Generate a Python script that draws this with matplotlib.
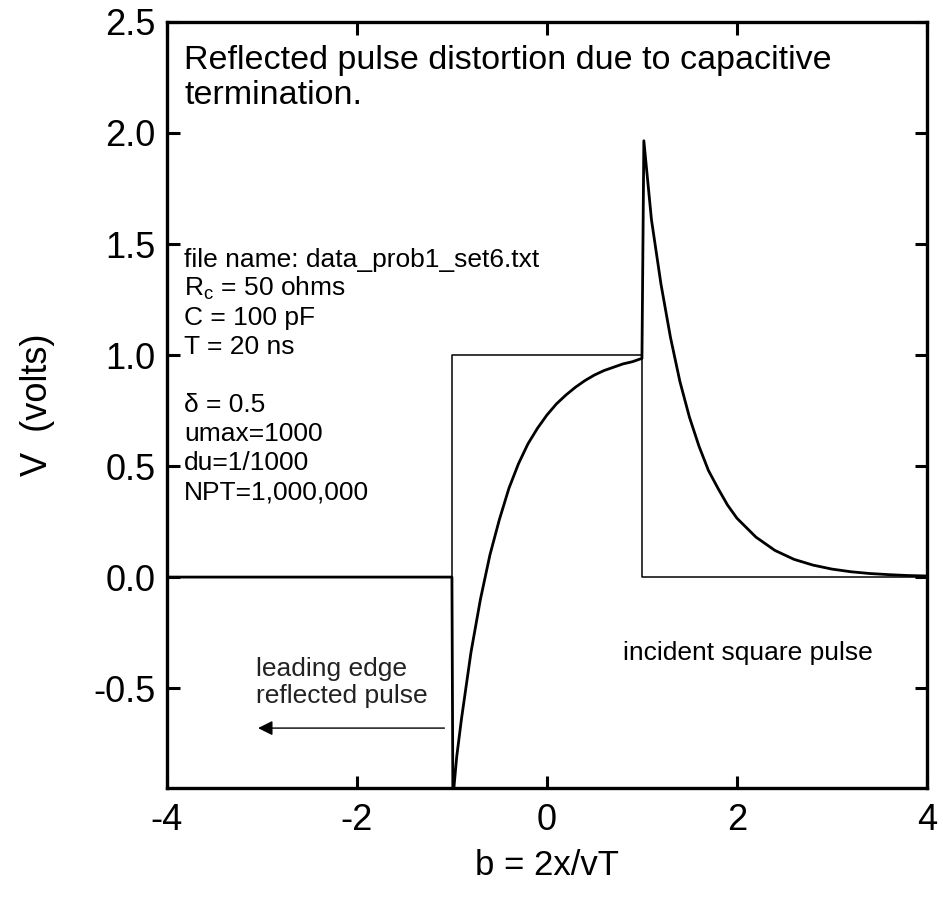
import matplotlib
matplotlib.use('Agg')
import matplotlib.pyplot as plt

plt.rcParams['font.family'] = ['Liberation Sans', 'DejaVu Sans']
plt.rcParams['mathtext.fontset'] = 'custom'
plt.rcParams['mathtext.rm'] = 'Liberation Sans'
plt.rcParams['axes.unicode_minus'] = False

# incident square pulse
square_b = [-4.0, -1.0, -1.0, 1.0, 1.0, 4.0]
square_v = [0.0, 0.0, 1.0, 1.0, 0.0, 0.0]

# reflected pulse
refl_b = [-4.0, -1.0, -0.99, -0.95, -0.9, -0.8, -0.7, -0.6, -0.5, -0.4, -0.3,
          -0.2, -0.1, 0.0, 0.1, 0.2, 0.3, 0.4, 0.5, 0.6, 0.7, 0.8, 0.9, 1.0,
          1.02, 1.1, 1.2, 1.3, 1.4, 1.5, 1.6, 1.7, 1.8, 1.9, 2.0, 2.2, 2.4,
          2.6, 2.8, 3.0, 3.2, 3.4, 3.6, 3.8, 4.0]
refl_v = [0.0, 0.0, -1.0, -0.81, -0.64, -0.34, -0.10, 0.10, 0.26, 0.40, 0.51,
          0.60, 0.67, 0.73, 0.78, 0.82, 0.855, 0.885, 0.91, 0.93, 0.945, 0.96,
          0.97, 0.985, 1.965, 1.61, 1.32, 1.08, 0.88, 0.72, 0.59, 0.48, 0.40,
          0.325, 0.265, 0.18, 0.12, 0.08, 0.054, 0.036, 0.024, 0.016, 0.011,
          0.007, 0.005]

x_ticks = [-4, -2, 0, 2, 4]
y_ticks = [-0.5, 0.0, 0.5, 1.0, 1.5, 2.0, 2.5]

param_lines = ['file name: data_prob1_set6.txt',
               r'R$_\mathrm{c}$ = 50 ohms',
               'C = 100 pF',
               'T = 20 ns',
               '',
               '\u03b4 = 0.5',
               'umax=1000',
               'du=1/1000',
               'NPT=1,000,000']


def main():
    fig = plt.figure(figsize=(9.43, 9.0), dpi=100)
    ax = fig.add_axes([0.177, 0.1244, 0.806, 0.8512])

    ax.plot(square_b, square_v, color='black', linewidth=1.1)
    ax.plot(refl_b, refl_v, color='black', linewidth=2.0)

    ax.set_xlim(-4, 4)
    ax.set_ylim(-0.95, 2.5)
    ax.set_xticks(x_ticks)
    ax.set_yticks(y_ticks)
    ax.set_xticklabels([str(t) for t in x_ticks])
    ax.set_yticklabels(['%.1f' % t for t in y_ticks])
    ax.tick_params(direction='in', length=9, width=2.2, labelsize=26,
                   top=True, right=True)
    ax.tick_params(axis='y', pad=8)
    ax.tick_params(axis='x', pad=11)
    for s in ax.spines.values():
        s.set_linewidth(2.4)

    ax.set_xlabel('b = 2x/vT', fontsize=25, labelpad=8)
    ax.set_ylabel('V  (volts)', fontsize=26, labelpad=28)

    ax.text(-3.82, 2.395, 'Reflected pulse distortion due to capacitive\ntermination.',
            fontsize=24.5, va='top', ha='left', linespacing=1.15)

    y0 = 1.43
    for i, line in enumerate(param_lines):
        ax.text(-3.82, y0 - i * 0.131, line, fontsize=19, va='center', ha='left')

    ax.text(-3.06, -0.475, 'leading edge\nreflected pulse', fontsize=19,
            color='#222222', va='center', ha='left', linespacing=1.15)
    ax.annotate('', xy=(-3.07, -0.68), xytext=(-1.05, -0.68),
                arrowprops=dict(arrowstyle='-|>', color='black', lw=1.0,
                                mutation_scale=22))
    ax.text(0.8, -0.34, 'incident square pulse', fontsize=19,
            va='center', ha='left')

    fig.savefig('out.png', dpi=100)


if __name__ == '__main__':
    main()
